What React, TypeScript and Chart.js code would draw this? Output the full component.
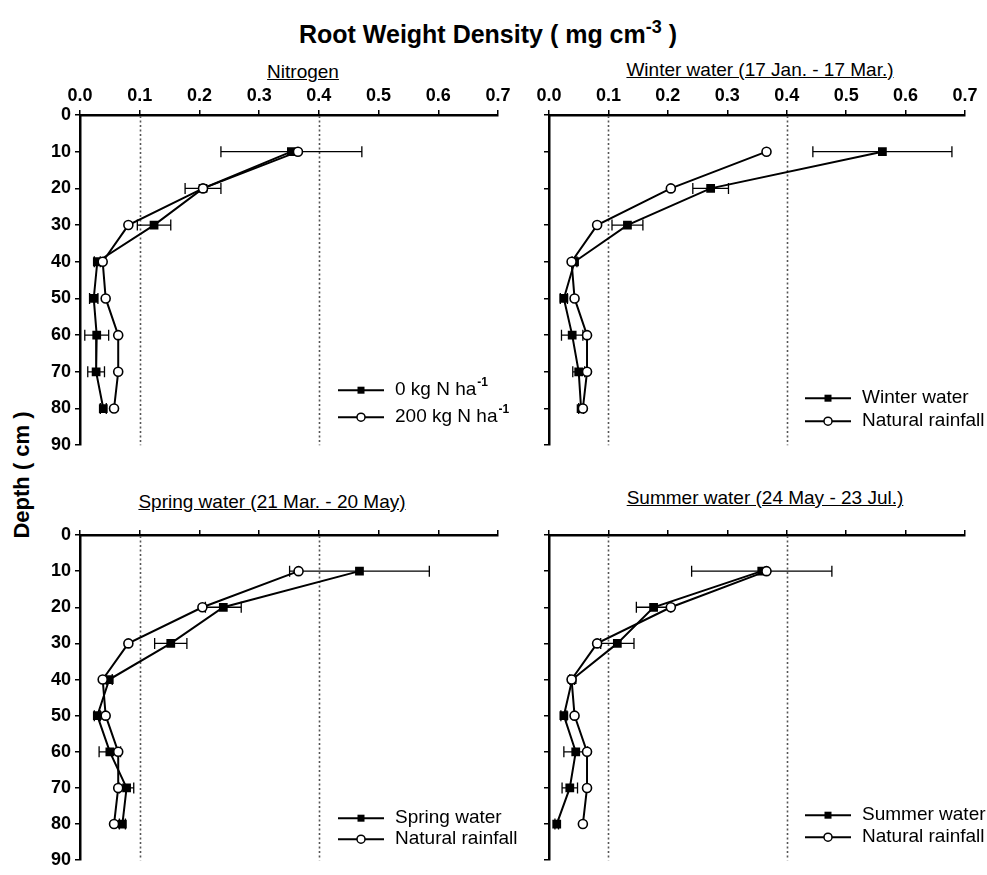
import React, { useEffect, useRef } from "react";
import { Chart, registerables } from "chart.js";

Chart.register(...registerables);

// ---------- data ----------
const DEPTHS = [10, 20, 30, 40, 50, 60, 70, 80];
const X_TICK_LABELS = ["0.0", "0.1", "0.2", "0.3", "0.4", "0.5", "0.6", "0.7"];
const Y_TICK_LABELS = ["0", "10", "20", "30", "40", "50", "60", "70", "80", "90"];
const REF_LINES = [0.1, 0.4];

const NITROGEN_0 = [0.354, 0.206, 0.124, 0.029, 0.023, 0.028, 0.027, 0.039];
const NITROGEN_0_ERR = [0.118, 0.03, 0.028, 0.005, 0.007, 0.02, 0.014, 0.005];
const NITROGEN_200 = [0.365, 0.206, 0.081, 0.038, 0.043, 0.064, 0.064, 0.057];

const WINTER = [0.561, 0.272, 0.132, 0.043, 0.025, 0.039, 0.05, 0.054];
const WINTER_ERR = [0.117, 0.03, 0.026, 0.004, 0.006, 0.018, 0.01, 0.004];

const SPRING = [0.468, 0.24, 0.152, 0.049, 0.029, 0.05, 0.078, 0.071];
const SPRING_ERR = [0.117, 0.03, 0.027, 0.005, 0.005, 0.018, 0.012, 0.005];

const SUMMER = [0.358, 0.176, 0.115, 0.039, 0.025, 0.045, 0.035, 0.013];
const SUMMER_ERR = [0.118, 0.029, 0.028, 0.004, 0.005, 0.02, 0.013, 0.003];

const NATURAL = [0.366, 0.205, 0.081, 0.038, 0.043, 0.064, 0.064, 0.057];

// ---------- layout ----------
const FONT = "'Liberation Sans', Arial, Helvetica, sans-serif";

const PANELS = [
  {
    title: "Nitrogen",
    treatLabel: "0 kg N ha^-1",
    ctrlLabel: "200 kg N ha^-1",
    treat: NITROGEN_0,
    treatErr: NITROGEN_0_ERR,
    ctrl: NITROGEN_200,
    left: 0, top: 80, w: 540, h: 380,
    yAxisW: 80, padR: 42, padB: 12,
    showX: true, showY: true,
    legendRows: [55, 28],
    titleX: 303, titleY: 72,
  },
  {
    title: "Winter water (17 Jan. - 17 Mar.)",
    treatLabel: "Winter water",
    ctrlLabel: "Natural rainfall",
    treat: WINTER,
    treatErr: WINTER_ERR,
    ctrl: NATURAL,
    left: 500, top: 80, w: 487, h: 380,
    yAxisW: 49, padR: 22, padB: 12,
    showX: true, showY: false,
    legendRows: [47, 24],
    titleX: 760, titleY: 70,
  },
  {
    title: "Spring water (21 Mar. - 20 May)",
    treatLabel: "Spring water",
    ctrlLabel: "Natural rainfall",
    treat: SPRING,
    treatErr: SPRING_ERR,
    ctrl: NATURAL,
    left: 0, top: 500, w: 540, h: 375,
    yAxisW: 80, padR: 42, padB: 7,
    showX: false, showY: true,
    legendRows: [42, 21],
    titleX: 272, titleY: 502,
  },
  {
    title: "Summer water (24 May - 23 Jul.)",
    treatLabel: "Summer water",
    ctrlLabel: "Natural rainfall",
    treat: SUMMER,
    treatErr: SUMMER_ERR,
    ctrl: NATURAL,
    left: 500, top: 500, w: 487, h: 375,
    yAxisW: 49, padR: 22, padB: 7,
    showX: false, showY: false,
    legendRows: [45, 23],
    titleX: 765, titleY: 498,
  },
];

function xLabel(v: number) {
  const idx = Math.round(v * 10);
  return X_TICK_LABELS[idx] ?? "";
}
function yLabel(v: number) {
  const idx = Math.round(v / 10);
  return Y_TICK_LABELS[idx] ?? "";
}

function drawLabel(ctx: CanvasRenderingContext2D, label: string, x: number, y: number) {
  const [base, sup] = label.split("^");
  ctx.font = `19px ${FONT}`;
  ctx.textAlign = "left";
  ctx.textBaseline = "middle";
  ctx.fillStyle = "#000";
  ctx.fillText(base, x, y);
  if (sup) {
    const w = ctx.measureText(base).width;
    ctx.font = `bold 12px ${FONT}`;
    ctx.fillText(sup, x + w + 1, y - 8);
  }
}

function makeOverlay(cfg: any) {
  return {
    id: "overlay",
    beforeDatasetsDraw(chart: any) {
      const { ctx, chartArea, scales } = chart;
      const x = scales.x;
      const y = scales.y;
      ctx.save();
      // dotted reference lines
      ctx.strokeStyle = "#555";
      ctx.lineWidth = 1.6;
      ctx.setLineDash([2, 2.5]);
      REF_LINES.forEach((v) => {
        const px = Math.round(x.getPixelForValue(v)) + 0.5;
        ctx.beginPath();
        ctx.moveTo(px, chartArea.top + 1);
        ctx.lineTo(px, chartArea.bottom);
        ctx.stroke();
      });
      ctx.setLineDash([]);
      // error bars
      ctx.strokeStyle = "#000";
      ctx.lineWidth = 1.3;
      cfg.treat.forEach((v: number, i: number) => {
        const e = cfg.treatErr[i];
        const py = y.getPixelForValue(DEPTHS[i]);
        const x1 = x.getPixelForValue(v - e);
        const x2 = x.getPixelForValue(v + e);
        ctx.beginPath();
        ctx.moveTo(x1, py);
        ctx.lineTo(x2, py);
        ctx.moveTo(x1, py - 5.5);
        ctx.lineTo(x1, py + 5.5);
        ctx.moveTo(x2, py - 5.5);
        ctx.lineTo(x2, py + 5.5);
        ctx.stroke();
      });
      ctx.restore();
    },
    afterDraw(chart: any) {
      const { ctx, chartArea } = chart;
      ctx.save();
      const x0 = chartArea.right - 160;
      const rows = [
        { label: cfg.treatLabel, style: "rect", yOff: cfg.legendRows[0] },
        { label: cfg.ctrlLabel, style: "circle", yOff: cfg.legendRows[1] },
      ];
      rows.forEach((r) => {
        const yy = chartArea.bottom - r.yOff;
        ctx.strokeStyle = "#000";
        ctx.lineWidth = 2;
        ctx.beginPath();
        ctx.moveTo(x0, yy);
        ctx.lineTo(x0 + 46, yy);
        ctx.stroke();
        const cx = x0 + 23;
        if (r.style === "rect") {
          ctx.fillStyle = "#000";
          ctx.fillRect(cx - 3.5, yy - 3.5, 7, 7);
        } else {
          ctx.fillStyle = "#fff";
          ctx.lineWidth = 1.5;
          ctx.beginPath();
          ctx.arc(cx, yy, 4, 0, Math.PI * 2);
          ctx.fill();
          ctx.stroke();
        }
        drawLabel(ctx, r.label, x0 + 57, yy);
      });
      ctx.restore();
    },
  };
}

function Panel({ cfg }: { cfg: any }) {
  const ref = useRef<HTMLCanvasElement | null>(null);
  useEffect(() => {
    if (!ref.current) return;
    const treatData = cfg.treat.map((v: number, i: number) => ({ x: v, y: DEPTHS[i] }));
    const ctrlData = cfg.ctrl.map((v: number, i: number) => ({ x: v, y: DEPTHS[i] }));
    const chart = new Chart(ref.current, {
      type: "line",
      data: {
        datasets: [
          {
            label: cfg.ctrlLabel,
            data: ctrlData,
            borderColor: "#000",
            borderWidth: 2,
            pointStyle: "circle",
            pointRadius: 4.5,
            pointBorderWidth: 1.6,
            pointBackgroundColor: "#fff",
            pointBorderColor: "#000",
            fill: false,
            tension: 0,
            order: 0,
          },
          {
            label: cfg.treatLabel,
            data: treatData,
            borderColor: "#000",
            borderWidth: 2,
            pointStyle: "rect",
            pointRadius: 6.2,
            pointBorderWidth: 0,
            pointBackgroundColor: "#000",
            pointBorderColor: "#000",
            fill: false,
            tension: 0,
            order: 1,
          },
        ],
      },
      options: {
        responsive: false,
        animation: false,
        devicePixelRatio: 1,
        layout: { padding: { left: 0, right: cfg.padR, top: 0, bottom: cfg.padB } },
        plugins: {
          legend: { display: false },
          tooltip: { enabled: false },
          title: { display: false },
        },
        scales: {
          x: {
            type: "linear",
            position: "top",
            min: 0,
            max: 0.7,
            afterFit: (s: any) => {
              s.height = 35;
            },
            ticks: {
              stepSize: 0.1,
              padding: 3,
              color: "#000",
              font: { family: FONT, size: 18, weight: "bold" },
              callback: (v: any) => (cfg.showX ? xLabel(Number(v)) : ""),
            },
            grid: {
              display: true,
              drawOnChartArea: false,
              drawTicks: true,
              tickLength: 5,
              color: "#000",
              lineWidth: 1.5,
            },
            border: { display: true, color: "#000", width: 2.5 },
          },
          y: {
            type: "linear",
            reverse: true,
            min: 0,
            max: 90,
            afterFit: (s: any) => {
              s.width = cfg.yAxisW;
            },
            ticks: {
              stepSize: 10,
              padding: 4,
              color: "#000",
              font: { family: FONT, size: 18, weight: "bold" },
              callback: (v: any) => (cfg.showY ? yLabel(Number(v)) : ""),
            },
            grid: {
              display: true,
              drawOnChartArea: false,
              drawTicks: true,
              tickLength: 5,
              color: "#000",
              lineWidth: 1.5,
            },
            border: { display: true, color: "#000", width: 2.5 },
          },
        },
      },
      plugins: [makeOverlay(cfg)],
    } as any);
    return () => chart.destroy();
  }, [cfg]);
  return (
    <canvas
      ref={ref}
      width={cfg.w}
      height={cfg.h}
      style={{ position: "absolute", left: cfg.left, top: cfg.top, width: cfg.w, height: cfg.h }}
    />
  );
}

export default function App() {
  return (
    <div
      style={{
        position: "absolute",
        left: 0,
        top: 0,
        width: 987,
        height: 875,
        background: "#fff",
        fontFamily: FONT,
        color: "#000",
        overflow: "hidden",
      }}
    >
      <div
        style={{
          position: "absolute",
          left: 488,
          top: 33,
          transform: "translate(-50%, -50%)",
          fontSize: 25,
          fontWeight: "bold",
          whiteSpace: "nowrap",
        }}
      >
        Root Weight Density ( mg cm<sup style={{ fontSize: 18 }}>-3</sup> )
      </div>
      <div
        style={{
          position: "absolute",
          left: 22,
          top: 475,
          transform: "translate(-50%, -50%) rotate(-90deg)",
          fontSize: 22,
          fontWeight: "bold",
          whiteSpace: "nowrap",
        }}
      >
        Depth ( cm )
      </div>
      {PANELS.map((p, i) => (
        <div
          key={"t" + i}
          style={{
            position: "absolute",
            left: p.titleX,
            top: p.titleY,
            transform: "translate(-50%, -50%)",
            fontSize: 19,
            textDecoration: "underline",
            whiteSpace: "nowrap",
          }}
        >
          {p.title}
        </div>
      ))}
      {PANELS.map((p, i) => (
        <Panel key={i} cfg={p} />
      ))}
    </div>
  );
}
